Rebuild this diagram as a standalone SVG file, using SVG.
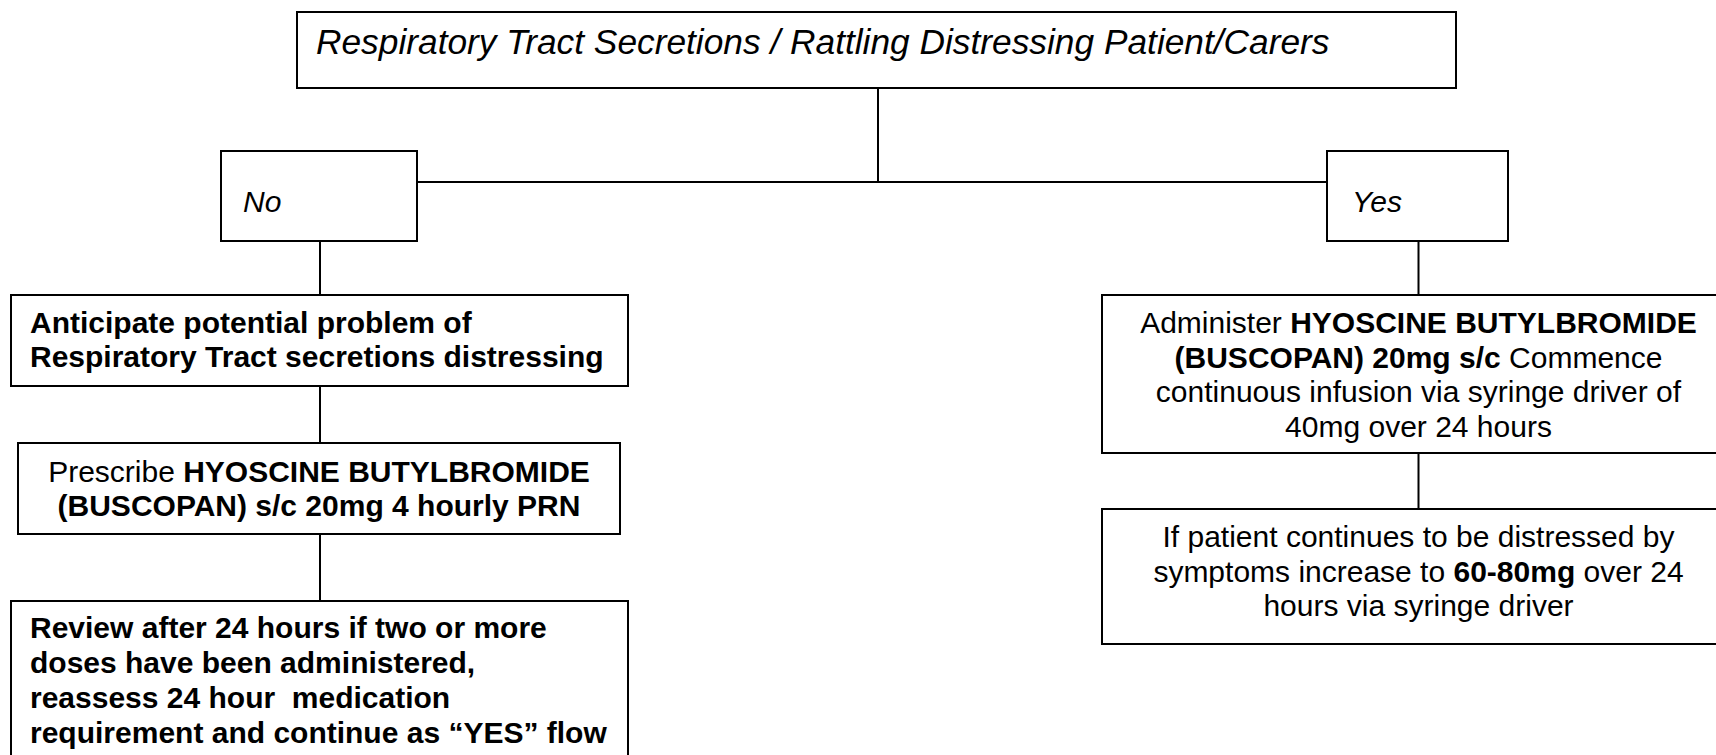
<svg xmlns="http://www.w3.org/2000/svg" width="1716" height="755" viewBox="0 0 1716 755">
<style>
.box{fill:#fff;stroke:#000;stroke-width:2}
.con{fill:none;stroke:#000;stroke-width:2}
text{font-family:"Liberation Sans",Arial,sans-serif;font-size:30px;fill:#000;white-space:pre}
.it{font-style:italic}
.b{font-weight:bold}
.c{text-anchor:middle}
.top{font-size:35.3px}
</style>
<rect width="1716" height="755" fill="#fff"/>
<g id="connectors">
<path class="con" d="M878 88V182M417 182H1327"/>
<path class="con" d="M320 241V295M320 386V443M320 534V601"/>
<path class="con" d="M1418.5 241V295M1418.5 453V509"/>
</g>
<g id="top">
<rect class="box" x="297" y="12" width="1159" height="76"/>
<text class="it top" x="316" y="54">Respiratory Tract Secretions / Rattling Distressing Patient/Carers</text>
</g>
<g id="no">
<rect class="box" x="221" y="151" width="196" height="90"/>
<text class="it" x="243" y="212">No</text>
</g>
<g id="yes">
<rect class="box" x="1327" y="151" width="181" height="90"/>
<text class="it" x="1352" y="212">Yes</text>
</g>
<g id="anticipate">
<rect class="box" x="11" y="295" width="617" height="91"/>
<text class="b" x="30" y="333">Anticipate potential problem of</text>
<text class="b" x="30" y="367">Respiratory Tract secretions distressing</text>
</g>
<g id="prescribe">
<rect class="box" x="18" y="443" width="602" height="91"/>
<text class="c" x="319" y="482">Prescribe <tspan class="b">HYOSCINE BUTYLBROMIDE</tspan></text>
<text class="c b" x="319" y="516">(BUSCOPAN) s/c 20mg 4 hourly PRN</text>
</g>
<g id="review">
<rect class="box" x="11" y="601" width="617" height="170"/>
<text class="b" x="30" y="638">Review after 24 hours if two or more</text>
<text class="b" x="30" y="673">doses have been administered,</text>
<text class="b" x="30" y="708">reassess 24 hour  medication</text>
<text class="b" x="30" y="743">requirement and continue as “YES” flow</text>
</g>
<g id="administer">
<rect class="box" x="1102" y="295" width="640" height="158"/>
<text class="c" x="1418.5" y="333">Administer <tspan class="b">HYOSCINE BUTYLBROMIDE</tspan></text>
<text class="c" x="1418.5" y="368"><tspan class="b">(BUSCOPAN) 20mg s/c</tspan> Commence</text>
<text class="c" x="1418.5" y="402">continuous infusion via syringe driver of</text>
<text class="c" x="1418.5" y="437">40mg over 24 hours</text>
</g>
<g id="increase">
<rect class="box" x="1102" y="509" width="640" height="135"/>
<text class="c" x="1418.5" y="547">If patient continues to be distressed by</text>
<text class="c" x="1418.5" y="582">symptoms increase to <tspan class="b">60-80mg</tspan> over 24</text>
<text class="c" x="1418.5" y="616">hours via syringe driver</text>
</g>
</svg>
